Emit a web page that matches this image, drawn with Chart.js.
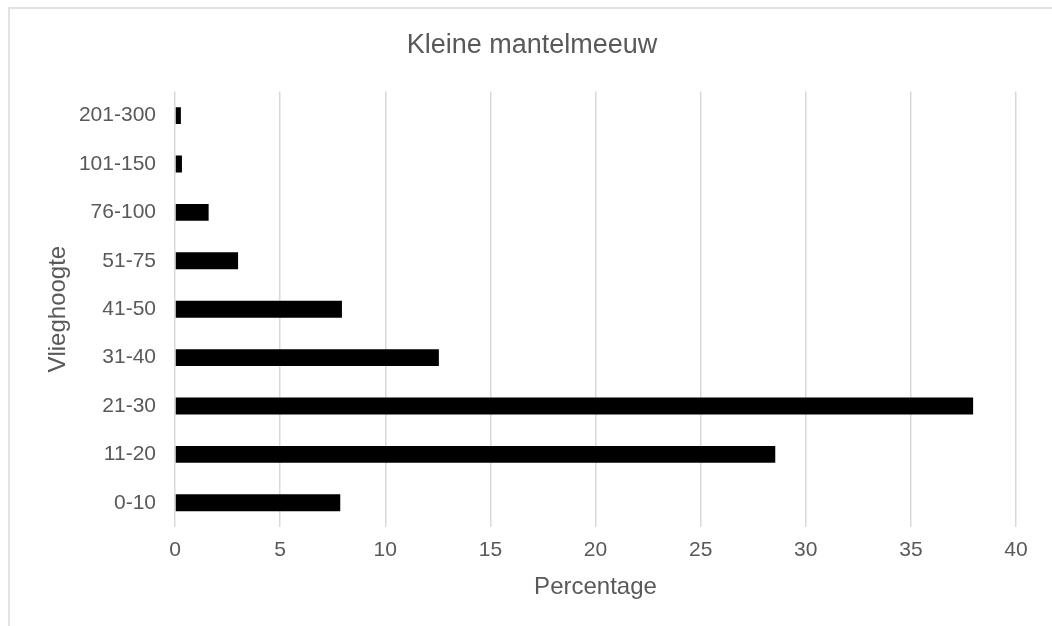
<!DOCTYPE html>
<html>
<head>
<meta charset="utf-8">
<title>Kleine mantelmeeuw</title>
<script src="https://cdn.jsdelivr.net/npm/chart.js@4"></script>
<style>
  html, body { margin: 0; padding: 0; background: #fff; }
  #wrap { position: relative; width: 1052px; height: 626px; overflow: hidden; }
  #frame {
    position: absolute; left: 8px; top: 7px; width: 2000px; height: 2000px;
    border-left: 2px solid #e2e2e2; border-top: 2px solid #e2e2e2;
  }
  canvas { position: absolute; left: 0; top: 0; }
</style>
</head>
<body>
<div id="wrap">
  <div id="frame"></div>
  <canvas id="myChart" width="1052" height="626"></canvas>
</div>
<script>
// vlieghoogte klassen (m), van laag naar hoog
var hoogteKlassen = ['0-10', '11-20', '21-30', '31-40', '41-50', '51-75', '76-100', '101-150', '201-300'];
// percentage waarnemingen per klasse
var percentages = [7.86, 28.55, 37.96, 12.55, 7.94, 3.0, 1.6, 0.33, 0.28];
var xTicks = [0, 5, 10, 15, 20, 25, 30, 35, 40];

var tekstKleur = '#595959';
var lettertype = '"Liberation Sans", Arial, sans-serif';

window.onload = function() {
    var ctx = document.getElementById('myChart').getContext('2d');
    new Chart(ctx, {
        type: 'bar',
        data: {
            labels: hoogteKlassen,
            datasets: [{
                label: 'Percentage',
                data: percentages,
                backgroundColor: '#000000',
                borderWidth: 0,
                categoryPercentage: 1,
                barPercentage: 0.35
            }]
        },
        options: {
            indexAxis: 'y',
            responsive: false,
            animation: false,
            // links extra ruimte zodat de titel boven het midden van de figuur staat
            layout: { padding: { left: 48, right: 36, top: 0, bottom: 0 } },
            plugins: {
                legend: { display: false },
                tooltip: { enabled: false },
                title: {
                    display: true,
                    text: 'Kleine mantelmeeuw',
                    color: tekstKleur,
                    font: { family: lettertype, size: 27, weight: 'normal' },
                    padding: { top: 29, bottom: 30 }
                }
            },
            scales: {
                x: {
                    min: xTicks[0],
                    max: xTicks[xTicks.length - 1],
                    afterBuildTicks: function(scale) {
                        scale.ticks = xTicks.map(function(v) { return { value: v }; });
                    },
                    afterFit: function(scale) { scale.height = 99; },
                    grid: { color: '#d9d9d9', lineWidth: 1.5, drawTicks: false },
                    border: { display: false },
                    ticks: {
                        color: tekstKleur,
                        padding: 11,
                        font: { family: lettertype, size: 21 }
                    },
                    title: {
                        display: true,
                        text: 'Percentage',
                        color: tekstKleur,
                        font: { family: lettertype, size: 24 },
                        padding: { top: 4, bottom: 24 }
                    }
                },
                y: {
                    reverse: true,
                    afterFit: function(scale) { scale.width = 127; },
                    grid: { display: false, drawTicks: false },
                    border: { display: false },
                    ticks: {
                        color: tekstKleur,
                        padding: 19,
                        font: { family: lettertype, size: 21 }
                    },
                    title: {
                        display: true,
                        text: 'Vlieghoogte',
                        color: tekstKleur,
                        font: { family: lettertype, size: 24 },
                        padding: { top: -4, bottom: 0 }
                    }
                }
            }
        }
    });
};
</script>
</body>
</html>
